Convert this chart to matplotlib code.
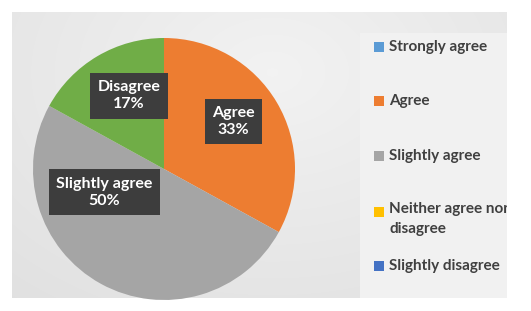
import numpy as np
import matplotlib
matplotlib.use('agg')
import matplotlib.pyplot as plt
from matplotlib.patches import Rectangle

categories = ['Strongly agree', 'Agree', 'Slightly agree',
              'Neither agree nor disagree', 'Slightly disagree', 'Disagree']
values = [0, 33, 50, 0, 0, 17]
colors = ['#5B9BD5', '#ED7D31', '#A5A5A5', '#FFC000', '#4472C4', '#70AD47']
legend_labels = ['Strongly agree', 'Agree', 'Slightly agree',
                 'Neither agree nor\ndisagree', 'Slightly disagree']

W, H = 531, 311
fig = plt.figure(figsize=(W / 100, H / 100), dpi=100)
fig.patch.set_facecolor('white')

# background panel (pixel coords, y down)
bg = fig.add_axes([0, 0, 1, 1])
bg.set_xlim(0, W)
bg.set_ylim(H, 0)
bg.axis('off')
yy, xx = np.mgrid[0:286, 0:495]
d = np.sqrt(((xx - 260) / 420.0) ** 2 + ((yy - 60) / 300.0) ** 2)
shade = 0.95 - 0.07 * np.clip(d, 0, 1)
bg.imshow(np.dstack([shade] * 3), extent=[12, 507, 298, 12], aspect='auto',
          interpolation='bilinear', zorder=0)
panel = Rectangle((360, 33), 147, 265, facecolor='#f1f1f1',
                  edgecolor='none', zorder=1)
bg.add_patch(panel)

# legend
leg_y = [47, 101, 156, 212, 266]
for lab, col, y in zip(legend_labels, colors[:5], leg_y):
    bg.add_patch(Rectangle((374, y - 5), 10, 10, facecolor=col,
                           edgecolor='none', zorder=2))
    multi = '\n' in lab
    t = bg.text(389, y - 10 if multi else y, lab, ha='left',
                va='top' if multi else 'center',
                fontsize=11, family='Lato', weight='bold', color='#404040',
                linespacing=1.5, zorder=3, clip_on=True)
    t.set_clip_path(panel)

# pie: center (164,169), radius 131 px, clipped at panel bottom y=298
cx, cy, r = 164, 169, 131
bottom = (298 - cy) / r
ax = fig.add_axes([(cx - r) / W, (H - 298) / H, 2 * r / W, (298 - 38) / H])
wedges, _ = ax.pie(values, colors=colors, startangle=90, counterclock=False,
                   radius=1, wedgeprops=dict(linewidth=0))
ax.set_aspect('auto')
ax.set_xlim(-1, 1)
ax.set_ylim(-bottom, 1)
ax.axis('off')

# (radius fraction, angle offset from wedge middle)
label_pos = {1: (0.64, 4), 2: (0.49, -40), 5: (0.62, -5)}
for i, w in enumerate(wedges):
    if values[i] == 0:
        continue
    frac, dang = label_pos[i]
    ang = np.deg2rad((w.theta1 + w.theta2) / 2 + dang)
    ax.text(frac * np.cos(ang), frac * np.sin(ang),
            f'{categories[i]}\n{values[i]}%', ha='center', va='center',
            fontsize=11.5, family='Lato', weight='bold', color='white',
            linespacing=1.3,
            bbox=dict(boxstyle='square,pad=0.45', facecolor='#3d3d3d',
                      edgecolor='none'))

fig.savefig('out.png', dpi=100)
